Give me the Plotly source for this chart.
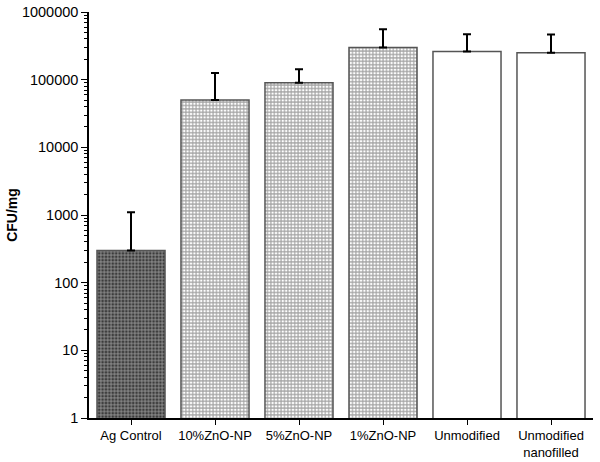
import plotly.graph_objects as go

categories = ["Ag Control", "10%ZnO-NP", "5%ZnO-NP", "1%ZnO-NP", "Unmodified", "Unmodified<br>nanofilled"]
values = [300, 50000, 90000, 300000, 260000, 250000]
err_upper = [800, 75000, 53000, 255000, 210000, 215000]
decades = [1, 10, 100, 1000, 10000, 100000, 1000000]
tick_text = ["1", "10", "100", "1000", "10000", "100000", "1000000"]
minor_vals = [d * k for d in decades[:-1] for k in range(2, 10)]

pattern_shapes = ["+", "+", "+", "+", "", ""]
pattern_solidity = [0.4, 0.55, 0.55, 0.55, 0.3, 0.3]
fill_colors = ["#3c3c3c", "white", "white", "white", "white", "white"]
fg_colors = ["#000000", "#111111", "#111111", "#111111", "#111111", "#111111"]

fig = go.Figure()
fig.add_trace(go.Bar(
    x=categories,
    y=values,
    marker=dict(
        color=fill_colors,
        line=dict(color="#555555", width=1.5),
        pattern=dict(shape=pattern_shapes, size=3.4, solidity=pattern_solidity,
                     fgcolor=fg_colors, fillmode="overlay"),
    ),
    error_y=dict(type="data", symmetric=False, array=err_upper,
                 arrayminus=[0] * len(values), color="black", thickness=2, width=4),
    width=0.81,
))

fig.update_layout(
    width=600, height=462,
    margin=dict(l=89, r=7, t=12, b=44),
    plot_bgcolor="white", paper_bgcolor="white",
    font=dict(family="Arial, Liberation Sans, sans-serif", size=13, color="black"),
    showlegend=False,
    xaxis=dict(
        range=[-0.5, 5.5], automargin=False,
        showline=True, linecolor="black", linewidth=1.5,
        ticks="outside", ticklen=5, tickcolor="black",
        showgrid=False, tickfont=dict(size=13),
    ),
    yaxis=dict(
        type="log", range=[0, 6], automargin=False,
        tickmode="array", tickvals=decades, ticktext=tick_text,
        showline=True, linecolor="black", linewidth=1.5,
        ticks="outside", ticklen=6, tickcolor="black",
        minor=dict(tickmode="array", tickvals=minor_vals, ticks="outside",
                   ticklen=3, tickcolor="black", showgrid=False),
        showgrid=False, zeroline=False,
        title=dict(text="<b>CFU/mg</b>", font=dict(size=14), standoff=1),
        tickfont=dict(size=14.5),
    ),
)

fig.write_html("out.html", config={"displayModeBar": False},
               post_script="document.body.style.margin='0px';")
